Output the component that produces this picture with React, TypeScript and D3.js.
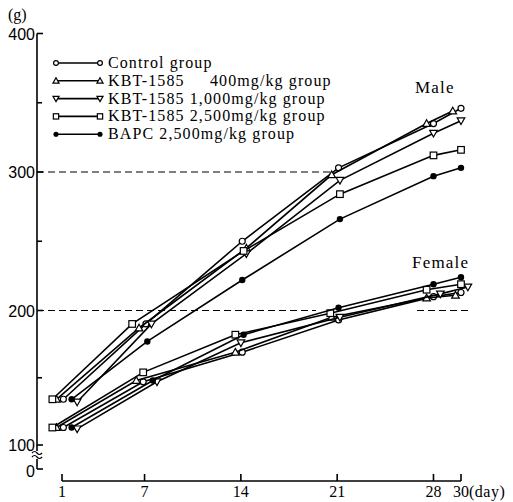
import React from 'react';
import * as d3 from 'd3';

// --- data ---
const groups = [
  'Control group',
  'KBT-1585 400mg/kg group',
  'KBT-1585 1,000mg/kg group',
  'KBT-1585 2,500mg/kg group',
  'BAPC 2,500mg/kg group',
];
const markers = ['circle', 'triangleUp', 'triangleDown', 'square', 'dot'];

// plotted day positions (points are staggered a little around each day in the original)
const maleDays = [
  [1.1, 7.1, 14.1, 21.1, 28.0, 30.0],
  [0.6, 6.6, 14.4, 20.6, 27.5, 29.4],
  [2.1, 7.5, 14.4, 21.2, 28.0, 30.0],
  [0.3, 6.1, 14.2, 21.2, 28.0, 30.0],
  [1.7, 7.2, 14.1, 21.2, 28.0, 30.0],
];
const maleWeights = [
  [134, 190, 250, 303, 335, 346],
  [134, 187, 245, 298, 335, 344],
  [132, 190, 241, 294, 328, 337],
  [134, 190, 243, 284, 312, 316],
  [134, 177, 222, 266, 297, 303],
];
const femaleDays = [
  [1.1, 6.9, 14.1, 21.1, 28.0, 30.0],
  [0.6, 6.4, 13.6, 20.6, 27.5, 29.6],
  [2.1, 7.9, 14.0, 21.2, 28.5, 30.5],
  [0.3, 6.9, 13.6, 20.5, 27.5, 30.0],
  [1.7, 7.6, 14.2, 21.1, 28.0, 30.0],
];
const femaleWeights = [
  [113, 147, 169, 193, 210, 213],
  [113, 148, 169, 195, 209, 211],
  [112, 147, 176, 195, 212, 217],
  [113, 154, 182, 198, 215, 219],
  [113, 148, 182, 202, 219, 224],
];

const xTicks = [1, 7, 14, 21, 28, 30];
const yMajor = [100, 200, 300, 400];
const yMinor = [150, 250, 350];

const W = 513;
const H = 502;
const AXIS_X = 37;
const AXIS_Y = 481;
const ZERO_Y = 469;

const x = d3.scaleLinear().domain([1, 30]).range([62, 461]);
// the scan is slightly uneven, so a piecewise scale follows the printed ticks
const y = d3.scaleLinear().domain([100, 200, 300, 400]).range([445, 310.5, 172, 33.5]);

const line = d3.line<[number, number]>().x(d => x(d[0])).y(d => y(d[1]));

const serif = '"Liberation Serif", "DejaVu Serif", serif';
const sans = '"Liberation Sans", Arial, sans-serif';

function Marker({ kind, cx, cy, s = 1 }: { kind: string; cx: number; cy: number; s?: number }) {
  const sw = 1.2;
  if (kind === 'circle') return <circle cx={cx} cy={cy} r={3 * s} fill="#fff" stroke="#000" strokeWidth={sw} />;
  if (kind === 'dot') return <circle cx={cx} cy={cy} r={3.2 * s} fill="#000" />;
  if (kind === 'square') {
    const h = 3.3 * s;
    return <rect x={cx - h} y={cy - h} width={2 * h} height={2 * h} fill="#fff" stroke="#000" strokeWidth={sw} />;
  }
  const a = 3.8 * s;
  const pts =
    kind === 'triangleUp'
      ? `${cx},${cy - a} ${cx + a},${cy + a * 0.75} ${cx - a},${cy + a * 0.75}`
      : `${cx},${cy + a} ${cx + a},${cy - a * 0.75} ${cx - a},${cy - a * 0.75}`;
  return <polygon points={pts} fill="#fff" stroke="#000" strokeWidth={sw} />;
}

function Series({ days, weights }: { days: number[][]; weights: number[][] }) {
  return (
    <g>
      {weights.map((ws, i) => {
        const pts = ws.map((w, j) => [days[i][j], w] as [number, number]);
        return (
          <g key={i}>
            <path d={line(pts) || ''} fill="none" stroke="#000" strokeWidth={1.6} />
            {pts.map((p, j) => (
              <Marker key={j} kind={markers[i]} cx={x(p[0])} cy={y(p[1])} />
            ))}
          </g>
        );
      })}
    </g>
  );
}

export default function App() {
  const legendY = (i: number) => 63 + i * 17.8;
  return (
    <svg width={W} height={H} style={{ position: 'absolute', left: 0, top: 0, background: '#fff' }}>
      <rect width={W} height={H} fill="#fff" />

      {/* reference lines */}
      <g stroke="#000" strokeWidth={1.2} strokeDasharray="7,4">
        <line x1={AXIS_X} x2={330} y1={y(300)} y2={y(300)} />
        <line x1={AXIS_X} x2={316} y1={y(200)} y2={y(200)} />
        <line x1={417} x2={470} y1={y(200)} y2={y(200)} />
      </g>

      {/* y axis with break */}
      <g stroke="#000" strokeWidth={1.6} fill="none">
        <line x1={AXIS_X} x2={AXIS_X} y1={y(400)} y2={451} />
        <line x1={AXIS_X} x2={AXIS_X} y1={459} y2={ZERO_Y} />
        <line x1={AXIS_X} x2={AXIS_X + 6} y1={ZERO_Y} y2={ZERO_Y} />
        <path d="M32,453 q2.5,-3 5,0 t5,0" strokeWidth={1.2} />
        <path d="M32,457 q2.5,-3 5,0 t5,0" strokeWidth={1.2} />
        {yMajor.map(v => (
          <line key={v} x1={AXIS_X} x2={AXIS_X + 6} y1={y(v)} y2={y(v)} />
        ))}
        {yMinor.map(v => (
          <line key={v} x1={AXIS_X} x2={AXIS_X + 5} y1={y(v)} y2={y(v)} />
        ))}
      </g>
      <g fontFamily={sans} fontSize={16} textAnchor="end" fill="#000">
        {yMajor.map(v => (
          <text key={v} x={AXIS_X - 2} y={y(v) + 6}>{v}</text>
        ))}
        <text x={AXIS_X - 2} y={ZERO_Y + 8}>0</text>
      </g>
      <text x={8} y={20} fontFamily={serif} fontSize={16} fill="#000">(g)</text>

      {/* x axis */}
      <g stroke="#000" strokeWidth={1.6}>
        <line x1={x(1)} x2={x(30)} y1={AXIS_Y} y2={AXIS_Y} />
        {xTicks.map(d => (
          <line key={d} x1={x(d)} x2={x(d)} y1={AXIS_Y} y2={AXIS_Y - 7} />
        ))}
      </g>
      <g fontFamily={serif} fontSize={16} textAnchor="middle" fill="#000">
        {xTicks.map(d => (
          <text key={d} x={x(d)} y={497}>{d}</text>
        ))}
        <text x={x(30) + 8} y={497} textAnchor="start" letterSpacing={0.5}>(day)</text>
      </g>

      {/* data */}
      <Series days={maleDays} weights={maleWeights} />
      <Series days={femaleDays} weights={femaleWeights} />

      <text x={415} y={93} fontFamily={serif} fontSize={17} letterSpacing={1.2} fill="#000">Male</text>
      <text x={412} y={268} fontFamily={serif} fontSize={17} letterSpacing={1.2} fill="#000">Female</text>

      {/* legend */}
      <g fontFamily={serif} fontSize={16} letterSpacing={1.1} fill="#000">
        {groups.map((g, i) => {
          const cy = legendY(i);
          const parts = g.split(' ');
          return (
            <g key={g}>
              <line x1={56} x2={100} y1={cy} y2={cy} stroke="#000" strokeWidth={1.6} />
              <Marker kind={markers[i]} cx={56} cy={cy} s={0.8} />
              <Marker kind={markers[i]} cx={100} cy={cy} s={0.8} />
              {i === 1 ? (
                <>
                  <text x={108} y={cy + 5}>{parts[0]}</text>
                  <text x={210} y={cy + 5}>{parts.slice(1).join(' ')}</text>
                </>
              ) : (
                <text x={108} y={cy + 5}>{g}</text>
              )}
            </g>
          );
        })}
      </g>
    </svg>
  );
}
